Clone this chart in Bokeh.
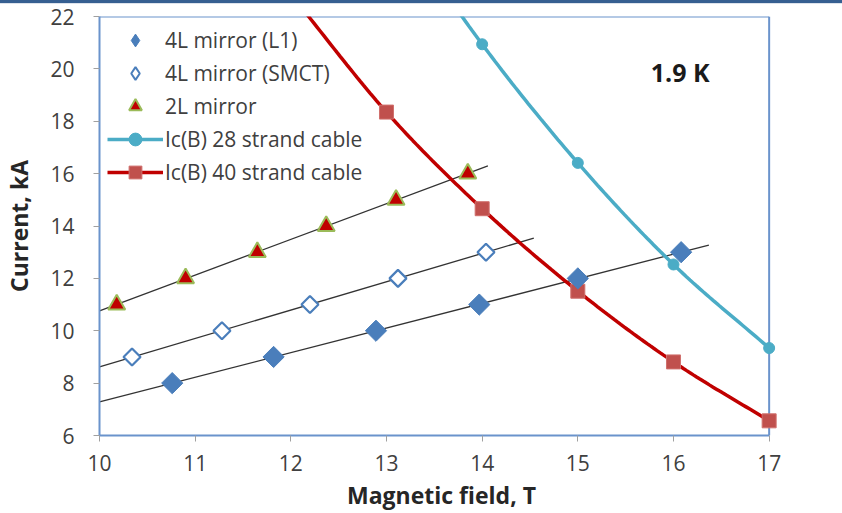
import numpy as np
from bokeh.plotting import figure
from bokeh.models import Range1d, Legend, LegendItem, Label, Div, FixedTicker
from bokeh.layouts import column
from bokeh.embed import file_html
from bokeh.resources import INLINE

# --- measured data -------------------------------------------------------
# 4L mirror, L1 coil
l1_b = [10.76, 11.82, 12.89, 13.97, 15.0, 16.08]
l1_i = [8, 9, 10, 11, 12, 13]
# 4L mirror, SMCT
smct_b = [10.34, 11.28, 12.2, 13.12, 14.04]
smct_i = [9, 10, 11, 12, 13]
# 2L mirror
m2l_b = [10.18, 10.9, 11.65, 12.37, 13.1, 13.85]
m2l_i = [11, 12, 13, 14, 15, 16]

# short-sample critical current curves Ic(B)
ic28_b = [13, 14, 15, 16, 17]
ic28_i = [26.2, 20.94, 16.41, 12.53, 9.34]
ic40_b = [12, 13, 14, 15, 16, 17]
ic40_i = [22.85, 18.35, 14.66, 11.51, 8.81, 6.56]

# extent of the linear trend lines (field, T)
fit_from = [10.0, 10.0, 10.0]
fit_to = [16.37, 14.54, 14.06]

x_ticks = [10, 11, 12, 13, 14, 15, 16, 17]
y_ticks = [6, 8, 10, 12, 14, 16, 18, 20, 22]

X_MIN, X_MAX = 10, 17
Y_MIN, Y_MAX = 6, 22

FONT = "Open Sans"
TXT = "#404040"
FRAME = "#6a93cc"
BLUE = "#4a7ebb"


def smooth(xs, ys, n=30):
    """Catmull-Rom curve through the given points."""
    p = np.column_stack([xs, ys]).astype(float)
    p = np.vstack([2 * p[0] - p[1], p, 2 * p[-1] - p[-2]])
    out = []
    t = np.linspace(0, 1, n)[:, None]
    for k in range(1, len(p) - 2):
        p0, p1, p2, p3 = p[k - 1], p[k], p[k + 1], p[k + 2]
        seg = 0.5 * ((2 * p1) + (-p0 + p2) * t + (2 * p0 - 5 * p1 + 4 * p2 - p3) * t ** 2
                     + (-p0 + 3 * p1 - 3 * p2 + p3) * t ** 3)
        out.append(seg if k == 1 else seg[1:])
    c = np.vstack(out)
    return c[:, 0], c[:, 1]


p = figure(width=842, height=509, output_backend="svg", toolbar_location=None,
           x_range=Range1d(X_MIN, X_MAX + 0.15), y_range=Range1d(Y_MIN, Y_MAX),
           min_border_left=98, min_border_right=59, min_border_top=12, min_border_bottom=76)
p.outline_line_color = None
p.xgrid.visible = False
p.ygrid.visible = False
p.background_fill_color = "white"
p.border_fill_color = "white"

for ax in (p.xaxis[0], p.yaxis[0]):
    ax.axis_line_color = FRAME
    ax.axis_line_width = 2
    ax.major_tick_line_color = "#a0a0a0"
    ax.major_tick_in = 0
    ax.major_tick_out = 6
    ax.minor_tick_line_color = None
    ax.major_label_text_font = FONT
    ax.major_label_text_font_size = "21px"
    ax.major_label_text_color = TXT
    ax.axis_label_text_font = FONT
    ax.axis_label_text_font_style = "bold"
    ax.axis_label_text_font_size = "23px"
    ax.axis_label_text_color = "#262626"

p.xaxis.bounds = (X_MIN, X_MAX)
p.yaxis.bounds = (Y_MIN, Y_MAX)
p.xaxis.ticker = FixedTicker(ticks=x_ticks)
p.yaxis.ticker = FixedTicker(ticks=y_ticks)
p.xaxis.axis_label = "Magnetic field, T"
p.yaxis.axis_label = "Current, kA"
p.xaxis.major_label_standoff = 13
p.yaxis.major_label_standoff = 19
p.xaxis.axis_label_standoff = 5
p.yaxis.axis_label_standoff = 12

# top and right frame edges
p.line([X_MIN, X_MAX], [Y_MAX, Y_MAX], line_color=FRAME, line_width=2)
p.line([X_MAX, X_MAX], [Y_MIN, Y_MAX], line_color=FRAME, line_width=2)

# linear trend lines
for (bx, iy), x0, x1 in zip([(l1_b, l1_i), (smct_b, smct_i), (m2l_b, m2l_i)], fit_from, fit_to):
    k, c = np.polyfit(bx, iy, 1)
    p.line([x0, x1], [k * x0 + c, k * x1 + c], line_color="#333333", line_width=1.3)

# Ic(B) curves
cx, cy = smooth(ic28_b, ic28_i)
r28_line = p.line(cx, cy, line_color="#4bacc6", line_width=3.5)
r28_pts = p.scatter(ic28_b, ic28_i, marker="circle", size=11, fill_color="#4bacc6",
                    line_color="#4bacc6")
cx, cy = smooth(ic40_b, ic40_i)
r40_line = p.line(cx, cy, line_color="#c00000", line_width=3.5)
r40_pts = p.scatter(ic40_b, ic40_i, marker="square", size=14, fill_color="#c0504d",
                    line_color="#d0706d", line_width=1)

# magnet test points (squares turned 45 degrees)
r_l1 = p.scatter(l1_b, l1_i, marker="square", angle=np.pi / 4, size=15,
                 fill_color=BLUE, line_color=BLUE)
r_smct = p.scatter(smct_b, smct_i, marker="square", angle=np.pi / 4, size=12,
                   fill_color="white", line_color=BLUE, line_width=2.2)
r_2l = p.scatter(m2l_b, m2l_i, marker="triangle", size=17, fill_color="#c00000",
                 line_color="#9bbb59", line_width=2)

# legend keys drawn as diamonds (legend glyphs are never rotated); no plotted points
k_l1 = p.scatter([np.nan], [np.nan], marker="diamond", fill_color=BLUE, line_color=BLUE)
k_smct = p.scatter([np.nan], [np.nan], marker="diamond", fill_color="white",
                   line_color=BLUE, line_width=2)

legend = Legend(items=[
    LegendItem(label="4L mirror (L1)", renderers=[k_l1]),
    LegendItem(label="4L mirror (SMCT)", renderers=[k_smct]),
    LegendItem(label="2L mirror", renderers=[r_2l]),
    LegendItem(label="Ic(B) 28 strand cable", renderers=[r28_line, r28_pts]),
    LegendItem(label="Ic(B) 40 strand cable", renderers=[r40_line, r40_pts]),
], location="top_left")
legend.border_line_color = None
legend.background_fill_alpha = 0
legend.margin = 8
legend.padding = 10
legend.spacing = 1
legend.glyph_width = 56
legend.glyph_height = 32
legend.label_height = 24
legend.label_standoff = 2
legend.label_text_font = FONT
legend.label_text_font_size = "21px"
legend.label_text_color = TXT
p.add_layout(legend)

p.add_layout(Label(x=16.07, y=19.87, text="1.9 K", text_align="center", text_baseline="middle",
                   text_font=FONT, text_font_style="bold", text_font_size="25px",
                   text_color="#1a1a1a"))

band = Div(width=842, height=4, margin=0,
           styles={"background-color": "#365f91", "border-bottom": "1px solid #dde3ec"})
layout = column(band, p, spacing=0)

open("out.html", "w").write(file_html(layout, INLINE))
